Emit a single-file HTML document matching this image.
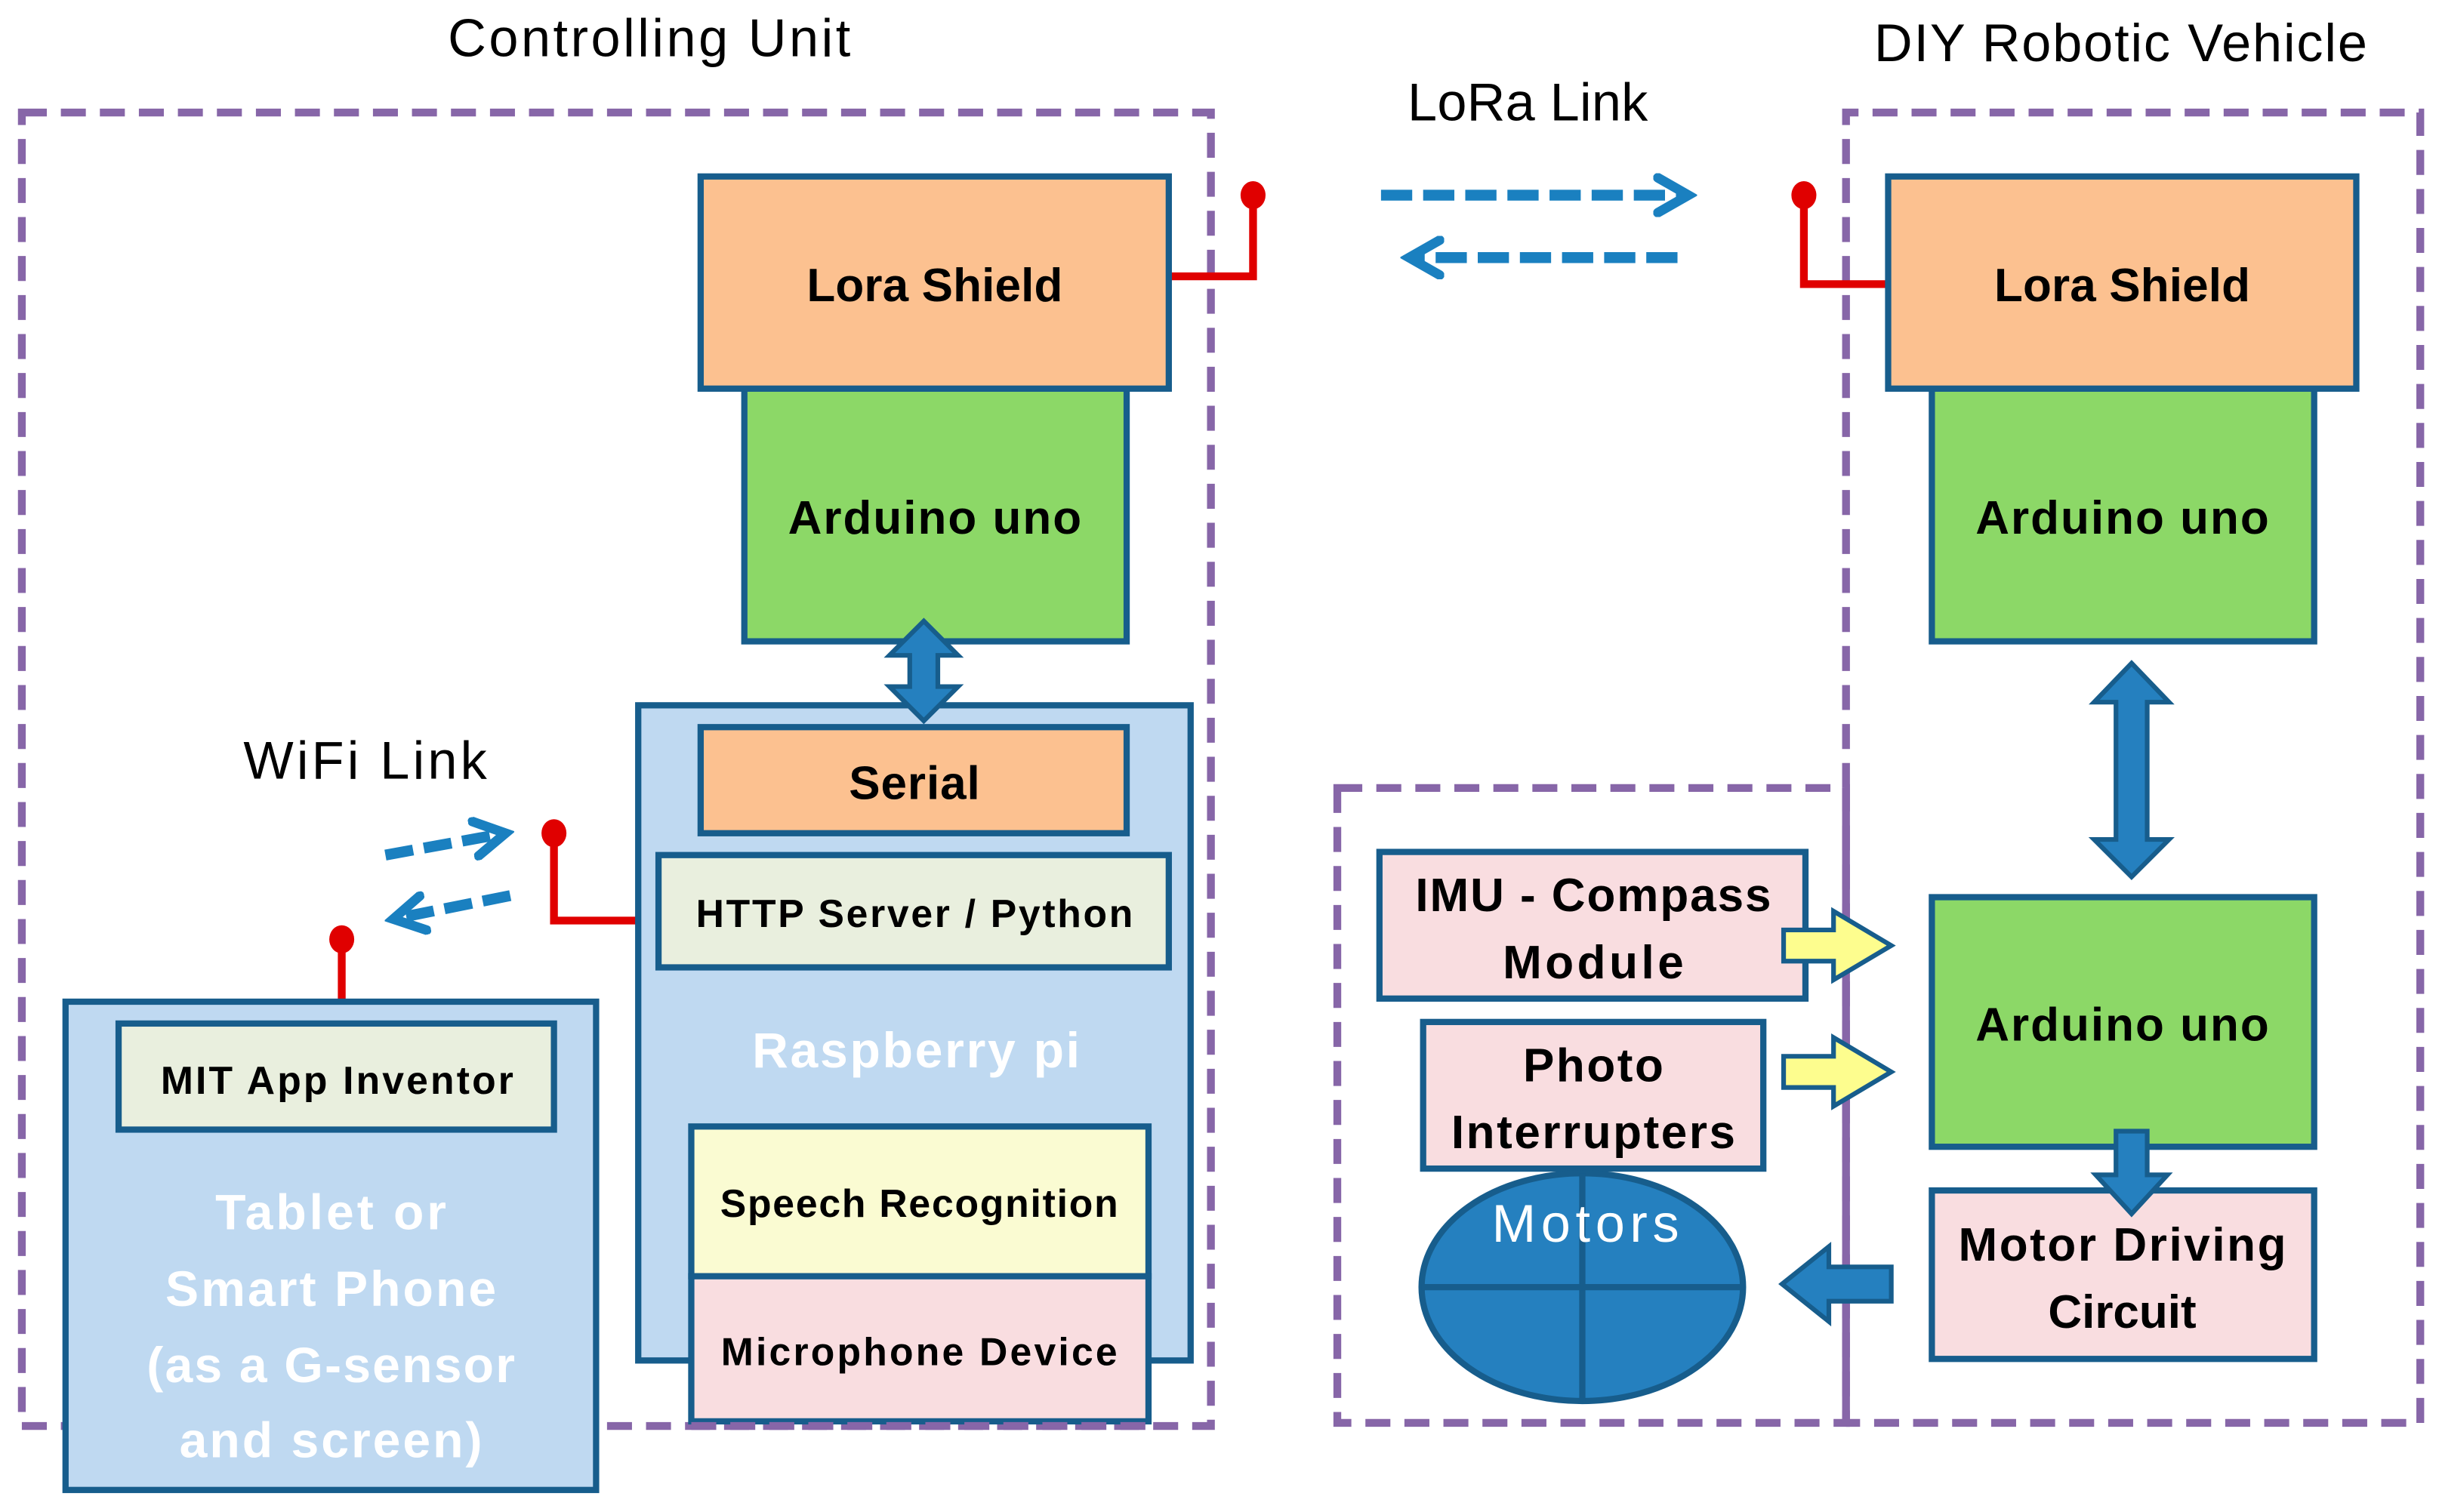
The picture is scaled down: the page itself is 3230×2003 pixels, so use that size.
<!DOCTYPE html>
<html><head><style>html,body{margin:0;padding:0;background:#fff}svg{display:block}</style></head>
<body>
<svg width="3230" height="2003" viewBox="0 0 1563 969" xmlns="http://www.w3.org/2000/svg" font-family="'Liberation Sans', sans-serif">
<defs>
<marker id="oh" viewBox="0 0 10 10" refX="8" refY="5" markerWidth="4" markerHeight="4" orient="auto"><path d="M1,1 L8,5 L1,9" fill="none" stroke="#1a80c0" stroke-width="2.2" stroke-linecap="round"/></marker>
</defs>
<!-- titles -->
<text x="416" y="36" font-size="34" text-anchor="middle" textLength="258">Controlling Unit</text>
<text x="1359" y="39" font-size="34" text-anchor="middle" textLength="316">DIY Robotic Vehicle</text>
<text x="979" y="77" font-size="34" text-anchor="middle" textLength="154">LoRa Link</text>
<text x="234" y="499" font-size="34" text-anchor="middle" textLength="156">WiFi  Link</text>

<g stroke="#1a80c0" stroke-width="7" fill="none">
<line x1="885" y1="125" x2="1082" y2="125" stroke-dasharray="20 7" marker-end="url(#oh)"/>
<line x1="1075" y1="165" x2="903" y2="165" stroke-dasharray="20 7" marker-end="url(#oh)"/>
<line x1="247" y1="548" x2="324" y2="534" stroke-dasharray="18 7" marker-end="url(#oh)"/>
<line x1="327" y1="574" x2="252" y2="589" stroke-dasharray="18 7" marker-end="url(#oh)"/>
</g>

<!-- dashed containers -->
<g stroke="#8766a8" stroke-width="5" fill="none" stroke-dasharray="16 9">
<rect x="14" y="72" width="762" height="842"/>
<polyline points="1183,505 1183,72 1551,72 1551,912 1183,912"/>
<rect x="857" y="505" width="326" height="407"/>
</g>
<line x1="1183" y1="505" x2="1183" y2="912" stroke="#8766a8" stroke-width="5"/>

<!-- red antennas -->
<g stroke="#e00000" stroke-width="5" fill="none">
<polyline points="749,177 803,177 803,125"/>
<polyline points="1210,182 1156,182 1156,125"/>
<polyline points="409,590 355,590 355,534"/>
<line x1="219" y1="642" x2="219" y2="602"/>
</g>
<g fill="#e00000">
<ellipse cx="803" cy="125" rx="8" ry="9"/><ellipse cx="1156" cy="125" rx="8" ry="9"/>
<ellipse cx="355" cy="534" rx="8" ry="9"/><ellipse cx="219" cy="602" rx="8" ry="9"/>
</g>

<g stroke="#175d8c" stroke-width="4">
<!-- left stack -->
<rect x="477" y="249" width="245" height="162" fill="#8cd867"/>
<rect x="449" y="113" width="300" height="136" fill="#fcc190"/>
<rect x="409" y="452" width="354" height="420" fill="#bfd9f1"/>
<rect x="449" y="466" width="273" height="68" fill="#fcc190"/>
<rect x="422" y="548" width="327" height="72" fill="#e9efde"/>
<rect x="443" y="722" width="293" height="96" fill="#fafbd2"/>
<rect x="443" y="818" width="293" height="93" fill="#f9dde0"/>
<rect x="42" y="642" width="340" height="313" fill="#bfd9f1"/>
<rect x="76" y="656" width="279" height="68" fill="#e9efde"/>
<!-- right stack -->
<rect x="1238" y="249" width="245" height="162" fill="#8cd867"/>
<rect x="1210" y="113" width="300" height="136" fill="#fcc190"/>
<rect x="1238" y="575" width="245" height="160" fill="#8cd867"/>
<rect x="1238" y="763" width="245" height="108" fill="#f9dde0"/>
<rect x="884" y="546" width="273" height="94" fill="#f9dde0"/>
<rect x="912" y="655" width="218" height="94" fill="#f9dde0"/>
<ellipse cx="1014" cy="825" rx="103" ry="73" fill="#2580bf"/>
<line x1="1014" y1="752" x2="1014" y2="898"/>
<line x1="911" y1="825" x2="1117" y2="825"/>
<!-- block arrows -->
<path d="M592,398 L614,420 L601,420 L601,440 L614,440 L592,462 L570,440 L583,440 L583,420 L570,420 Z" fill="#2580bf" stroke-width="3"/>
<path d="M1366,425 L1390,450 L1376,450 L1376,538 L1390,538 L1366,562 L1342,538 L1356,538 L1356,450 L1342,450 Z" fill="#2580bf" stroke-width="3"/>
<path d="M1356,725 L1376,725 L1376,753 L1389,753 L1366,778 L1343,753 L1356,753 Z" fill="#2580bf" stroke-width="3"/>
<path d="M1212,812 L1212,834 L1172,834 L1172,847 L1142,823 L1172,799 L1172,812 Z" fill="#2580bf" stroke-width="3"/>
<path d="M1143,596 L1175,596 L1175,584 L1212,606 L1175,628 L1175,616 L1143,616 Z" fill="#fdfd8e" stroke-width="3"/>
<path d="M1143,677 L1175,677 L1175,665 L1212,687 L1175,709 L1175,697 L1143,697 Z" fill="#fdfd8e" stroke-width="3"/>
</g>
<!-- dashes over mic box bottom -->
<line x1="443" y1="914" x2="736" y2="914" stroke="#8766a8" stroke-width="5" stroke-dasharray="16 9"/>

<!-- labels -->
<g font-weight="bold" text-anchor="middle" fill="#000">
<text x="599" y="193" font-size="30" textLength="164">Lora Shield</text>
<text x="599" y="342" font-size="30" textLength="188">Arduino uno</text>
<text x="586" y="512" font-size="30" textLength="84">Serial</text>
<text x="586" y="594" font-size="25" textLength="280">HTTP Server / Python</text>
<text x="589" y="780" font-size="25" textLength="255">Speech Recognition</text>
<text x="589" y="875" font-size="25" textLength="254">Microphone Device</text>
<text x="216" y="701" font-size="25" textLength="226">MIT App Inventor</text>
<text x="1360" y="193" font-size="30" textLength="164">Lora Shield</text>
<text x="1360" y="342" font-size="30" textLength="188">Arduino uno</text>
<text x="1360" y="667" font-size="30" textLength="188">Arduino uno</text>
<text x="1360" y="808" font-size="30" textLength="210">Motor Driving</text>
<text x="1360" y="851" font-size="30" textLength="95">Circuit</text>
<text x="1021" y="584" font-size="30" textLength="228">IMU - Compass</text>
<text x="1021" y="627" font-size="30" textLength="116">Module</text>
<text x="1021" y="693" font-size="30" textLength="90">Photo</text>
<text x="1021" y="736" font-size="30" textLength="182">Interrupters</text>
</g>
<g font-weight="bold" text-anchor="middle" fill="#fff">
<text x="587" y="684" font-size="32" textLength="210">Raspberry pi</text>
<text x="212" y="788" font-size="32" textLength="148">Tablet or</text>
<text x="212" y="837" font-size="32" textLength="212">Smart Phone</text>
<text x="212" y="886" font-size="32" textLength="236">(as a G-sensor</text>
<text x="212" y="934" font-size="32" textLength="194">and screen)</text>
</g>
<text x="1016" y="796" font-size="34" text-anchor="middle" fill="#fff" textLength="120">Motors</text>
</svg>
</body></html>
